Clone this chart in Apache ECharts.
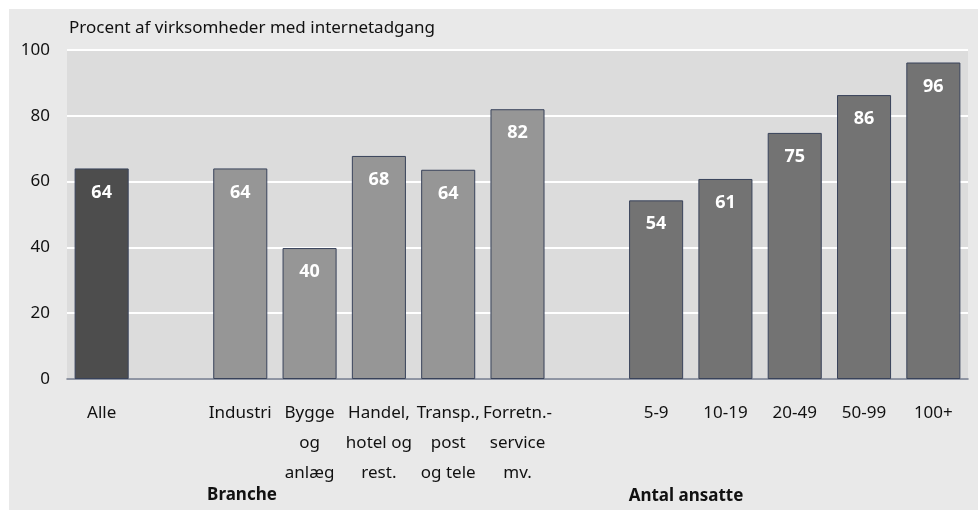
<!DOCTYPE html>
<html>
<head>
<meta charset="utf-8">
<script src="https://cdn.jsdelivr.net/npm/echarts@6/dist/echarts.min.js"></script>
<style>
  html, body { margin: 0; padding: 0; background: #fff; }
  #chart { width: 979px; height: 510px; }
</style>
</head>
<body>
<div id="chart"></div>
<script>
// kategorier, tomme pladser giver luft mellem grupperne
const categories = ['Alle', ' ', 'Industri', 'Bygge\nog\nanlæg', 'Handel,\nhotel og\nrest.', 'Transp.,\npost\nog tele', 'Forretn.-\nservice\nmv.', '  ', '5-9', '10-19', '20-49', '50-99', '100+'];
const values = [64, null, 64, 39.8, 67.8, 63.6, 82, null, 54.3, 60.8, 74.8, 86.3, 96.2];
const groups = ['alle', null, 'branche', 'branche', 'branche', 'branche', 'branche', null, 'ansatte', 'ansatte', 'ansatte', 'ansatte', 'ansatte'];
const yTicks = [0, 20, 40, 60, 80, 100];

const colors = { alle: '#4d4d4d', branche: '#969696', ansatte: '#737373' };
const font = '"Noto Sans", sans-serif';

const chart = echarts.init(document.getElementById('chart'));

chart.setOption({
  backgroundColor: '#ffffff',
  animation: false,
  textStyle: { fontFamily: font },
  graphic: [
    {
      type: 'rect', z: -10, silent: true,
      shape: { x: 9, y: 9, width: 969, height: 501 },
      style: { fill: '#e9e9e9' }
    },
    {
      type: 'text', left: 69, top: 20,
      style: { text: 'Procent af virksomheder med internetadgang', fontSize: 17, fontFamily: font, fill: '#111' }
    },
    {
      type: 'text', x: 242, y: 495,
      style: { text: 'Branche', fontSize: 17, fontWeight: 'bold', fontFamily: font, fill: '#111', align: 'center', verticalAlign: 'middle' }
    },
    {
      type: 'text', x: 686, y: 496,
      style: { text: 'Antal ansatte', fontSize: 17, fontWeight: 'bold', fontFamily: font, fill: '#111', align: 'center', verticalAlign: 'middle' }
    }
  ],
  grid: {
    left: 67, right: 11, top: 50, bottom: 131,
    show: true, backgroundColor: '#dcdcdc', borderWidth: 0
  },
  xAxis: {
    type: 'category',
    data: categories,
    axisLine: { show: true, lineStyle: { color: '#6b7385', width: 1.5 } },
    axisTick: { show: false },
    axisLabel: {
      interval: 0, margin: 19, fontSize: 17, lineHeight: 30,
      color: '#111', fontFamily: font, align: 'center'
    }
  },
  yAxis: {
    type: 'value',
    min: 0, max: 100, interval: 20,
    axisLine: { show: false },
    axisTick: { show: false },
    axisLabel: {
      margin: 17, fontSize: 17, color: '#111', fontFamily: font,
      formatter: v => yTicks.includes(v) ? String(v) : ''
    },
    splitLine: { lineStyle: { color: '#ffffff', width: 2 } }
  },
  series: [{
    type: 'bar',
    data: values,
    barCategoryGap: '22%',
    itemStyle: {
      color: p => colors[groups[p.dataIndex]] || 'transparent',
      borderColor: '#38425a',
      borderWidth: 1
    },
    label: {
      show: true,
      position: 'insideTop',
      distance: 15,
      color: '#ffffff',
      fontWeight: 'bold',
      fontSize: 18,
      fontFamily: font,
      formatter: p => Math.round(p.value)
    }
  }]
});
</script>
</body>
</html>
